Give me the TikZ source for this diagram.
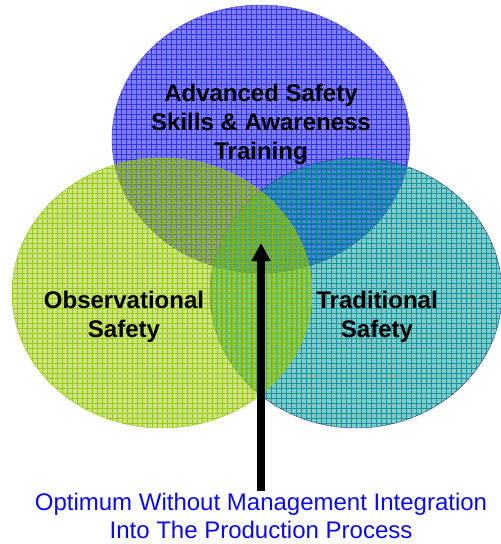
\documentclass[tikz,border=0pt]{standalone}
\usepackage{fontspec}
\setmainfont{Liberation Sans}
\usetikzlibrary{shapes.geometric,arrows.meta,positioning}
\definecolor{advblue}{RGB}{0,0,255}
\definecolor{advgrid}{RGB}{30,30,210}
\definecolor{advedge}{RGB}{60,60,190}
\definecolor{obsgreen}{RGB}{153,204,0}
\definecolor{obsgrid}{RGB}{140,190,0}
\definecolor{obsedge}{RGB}{150,200,20}
\definecolor{tradteal}{RGB}{0,153,153}
\definecolor{tradgrid}{RGB}{0,130,140}
\definecolor{tradedge}{RGB}{50,60,150}
\definecolor{optblue}{RGB}{10,10,240}

\begin{document}
\begin{tikzpicture}[x=1pt, y=-1pt, >={Triangle[width=18pt,length=18pt]},
	area/.style n args={3}{ellipse, inner sep=0pt, draw=#3, thin, fill=#1, fill opacity=0.5,
		path picture={\draw[#2, step=5pt, line width=0.5pt, draw opacity=0.75]
			(path picture bounding box.south west) grid (path picture bounding box.north east);}},
	caption/.style={align=center, font=\fontsize{24}{29}\selectfont\bfseries, text=black},
	note/.style={align=center, font=\fontsize{24}{28}\selectfont, text=optblue, inner sep=2pt}]
	\useasboundingbox (0,0) rectangle (501,544);

	% the three circles
	\node[area={advblue}{advgrid}{advedge}, minimum width=298pt, minimum height=268pt] (adv) at (261,139) {};
	\node[area={tradteal}{tradgrid}{tradedge}, minimum width=292pt, minimum height=270pt] (trad) at (356,293) {};
	\node[area={obsgreen}{obsgrid}{obsedge}, minimum width=300pt, minimum height=270pt] (obs) at (162,293) {};

	\node[caption] (advtext) at (261,124) {Advanced Safety\\Skills \& Awareness\\Training};
	\node[caption] (obstext) at (124,317) {Observational\\Safety};
	\node[caption] (tradtext) at (377,317) {Traditional\\Safety};

	\node[note] (opt) at (261,516) {Optimum Without Management Integration\\Into The Production Process};
	\coordinate (tip) at (261,243);
	\draw[->, line width=8pt] (opt.north) -- (tip);
\end{tikzpicture}
\end{document}
